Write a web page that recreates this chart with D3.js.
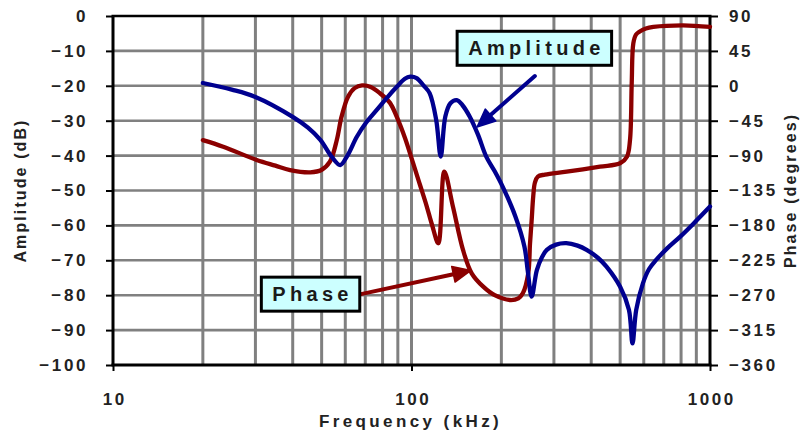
<!DOCTYPE html>
<html>
<head>
<meta charset="utf-8">
<script src="https://cdn.jsdelivr.net/npm/d3@7"></script>
<style>
  html, body { margin: 0; padding: 0; background: #fff; }
  svg { display: block; font-family: Arial, "Liberation Sans", sans-serif; }
</style>
</head>
<body>
<svg id="chart" width="800" height="436"></svg>
<script>
// Frequency response: amplitude (dB, left axis) and phase (degrees, right axis)
const ampFreq = [20, 25, 30, 40, 45, 49.5, 54, 57.7, 61, 65.6, 70.5, 76.5, 83, 89.3, 95, 99, 104, 110, 115, 121, 125.3,
  129.8, 135, 141.8, 148, 156.6, 167, 178, 190, 202, 223, 239, 245, 252.7, 263, 274, 284, 305, 330, 360, 386, 420,
  450, 500, 535, 550, 566, 596, 625, 660, 720, 795, 880, 1000];
const ampDb = [-19.2, -21.1, -23.2, -28.9, -32, -35.5, -40.3, -42.7, -40, -34.6, -30.5, -26.9, -23.3, -20.3, -18, -17.4,
  -17.8, -20, -22.1, -29.8, -40.3, -28.8, -25, -24.1, -25.5, -28.8, -34, -40.3, -44.5, -48.9, -57.5, -66.1, -72.8,
  -80.4, -72.8, -69, -67, -65.5, -65.1, -65.8, -67, -69.2, -71.8, -77.6, -84.2, -93.8, -84.2, -76.6, -72.5, -69.9,
  -66.5, -63.2, -59.5, -54.6];

const phaseFreq = [20, 23.4, 30.3, 35, 39.2, 45.8, 49.9, 53.3, 56.2, 58.3, 61.3, 64.5, 68.3, 73, 78.4, 84.7, 89.2, 95.1,
  101.2, 106.8, 112.4, 117.2, 123, 128.8, 137.7, 148.8, 159.1, 173.9, 190, 213.7, 228, 236, 246.1, 249.5, 252.5, 255.8,
  259, 265, 280, 331, 428, 499.5, 527, 539.5, 546.7, 553.5, 565, 580, 610, 646, 812, 1000];
const phaseDeg = [-70, -78.5, -95.7, -103, -108.6, -111.5, -108.6, -97.9, -69.9, -39.8, -14, -3, 0.5, -1.5, -9.6, -22,
  -39.8, -67.3, -99.5, -127.9, -155, -179.5, -203, -110.6, -155.9, -211.7, -241.8, -259, -270, -276.2, -274, -267.6,
  -241.8, -203.1, -175, -142, -125, -117, -114.5, -110.7, -104.3, -99.9, -91.4, -69.9, 3.2, 54.8, 66, 69.8, 74, 76,
  78, 76];

const ampTicks = [0, -10, -20, -30, -40, -50, -60, -70, -80, -90, -100];
const phaseTicks = [90, 45, 0, -45, -90, -135, -180, -225, -270, -315, -360];
const freqTicks = [10, 100, 1000];

// Callouts: label box centre and arrow tail/head, in frequency / dB units
const callouts = [
  { text: "Amplitude", color: "#00008f", box: [258, -9.25], tail: [259, -17.2], head: [165.8, -31.8] },
  { text: "Phase", color: "#8b0000", box: [45.9, -79.7], tail: [67.7, -79.7], head: [158.2, -72.9] }
];

const margin = { left: 113, right: 90, top: 16, bottom: 71 };
const W = 800, H = 436;
const svg = d3.select("#chart");

const x = d3.scaleLog().domain([10, 1000]).range([margin.left, W - margin.right]);
const yAmp = d3.scaleLinear().domain([-100, 0]).range([H - margin.bottom, margin.top]);
const yPh = d3.scaleLinear().domain([-360, 90]).range([H - margin.bottom, margin.top]);

const gridColor = "#808080";

// grid
const grid = svg.append("g");
grid.selectAll("line.v")
  .data(x.ticks().filter(d => d > 10 && d < 1000))
  .join("line")
  .attr("x1", d => x(d)).attr("x2", d => x(d))
  .attr("y1", yAmp(0)).attr("y2", yAmp(-100))
  .attr("stroke", gridColor).attr("stroke-width", 3);
grid.selectAll("line.h")
  .data(ampTicks.filter(d => d > -100 && d < 0))
  .join("line")
  .attr("x1", x(10)).attr("x2", x(1000))
  .attr("y1", d => yAmp(d)).attr("y2", d => yAmp(d))
  .attr("stroke", gridColor).attr("stroke-width", 2.6);

// axes
const tickFont = g => g.selectAll("text")
  .attr("font-size", 17).attr("font-weight", "bold").attr("fill", "#222")
  .attr("letter-spacing", 2.6);

const leftAxis = svg.append("g").attr("transform", `translate(${x(10)},0)`)
  .call(d3.axisLeft(yAmp).tickValues(ampTicks).tickSize(7).tickPadding(18).tickFormat(d3.format("d")))
  .call(g => g.select(".domain").remove())
  .call(tickFont);
leftAxis.selectAll("line").attr("stroke", "#000").attr("stroke-width", 2);

const rightAxis = svg.append("g").attr("transform", `translate(${x(1000)},0)`)
  .call(d3.axisRight(yPh).tickValues(phaseTicks).tickSize(8).tickPadding(11).tickFormat(d3.format("d")))
  .call(g => g.select(".domain").remove())
  .call(tickFont);
rightAxis.selectAll("line").attr("stroke", "#000").attr("stroke-width", 2);

const bottomAxis = svg.append("g").attr("transform", `translate(0,${yAmp(-100)})`)
  .call(d3.axisBottom(x).tickValues(freqTicks).tickSize(6).tickPadding(22).tickFormat(d3.format("d")))
  .call(g => g.select(".domain").remove())
  .call(tickFont);
bottomAxis.selectAll("line").attr("stroke", "#000").attr("stroke-width", 2);
bottomAxis.selectAll("text").attr("dx", 1.3);

// plot frame
svg.append("line").attr("x1", x(10) - 1.5).attr("x2", x(1000) + 1.5).attr("y1", yAmp(0)).attr("y2", yAmp(0))
  .attr("stroke", "#000").attr("stroke-width", 2.5);
svg.append("line").attr("x1", x(10) - 1.5).attr("x2", x(1000) + 1.5).attr("y1", yAmp(-100)).attr("y2", yAmp(-100))
  .attr("stroke", "#000").attr("stroke-width", 3);
svg.append("line").attr("x1", x(10)).attr("x2", x(10)).attr("y1", yAmp(0)).attr("y2", yAmp(-100))
  .attr("stroke", "#000").attr("stroke-width", 3);
svg.append("line").attr("x1", x(1000)).attr("x2", x(1000)).attr("y1", yAmp(0)).attr("y2", yAmp(-100))
  .attr("stroke", "#000").attr("stroke-width", 3);

// axis titles
const midY = (yAmp(0) + yAmp(-100)) / 2;
svg.append("text")
  .attr("transform", `translate(26,${midY}) rotate(-90)`)
  .attr("text-anchor", "middle").attr("font-size", 16).attr("font-weight", "bold")
  .attr("letter-spacing", 2.1).attr("fill", "#222")
  .text("Amplitude (dB)");
svg.append("text")
  .attr("transform", `translate(796,${midY}) rotate(-90)`)
  .attr("text-anchor", "middle").attr("font-size", 16).attr("font-weight", "bold")
  .attr("letter-spacing", 2.1).attr("fill", "#222")
  .text("Phase (degrees)");
svg.append("text")
  .attr("x", (x(10) + x(1000)) / 2 - 1).attr("y", 427)
  .attr("text-anchor", "middle").attr("font-size", 17).attr("font-weight", "bold")
  .attr("letter-spacing", 3.4).attr("fill", "#222")
  .text("Frequency (kHz)");

// curves
const curve = d3.curveCatmullRom.alpha(0.5);
const ampLine = d3.line().x(i => x(ampFreq[i])).y(i => yAmp(ampDb[i])).curve(curve);
const phLine = d3.line().x(i => x(phaseFreq[i])).y(i => yPh(phaseDeg[i])).curve(curve);

svg.append("path").attr("d", phLine(d3.range(phaseFreq.length)))
  .attr("fill", "none").attr("stroke", "#8b0000").attr("stroke-width", 4.3)
  .attr("stroke-linejoin", "round").attr("stroke-linecap", "round");
svg.append("path").attr("d", ampLine(d3.range(ampFreq.length)))
  .attr("fill", "none").attr("stroke", "#00008f").attr("stroke-width", 4.3)
  .attr("stroke-linejoin", "round").attr("stroke-linecap", "round");

// callouts with arrows
callouts.forEach(c => {
  const tx = x(c.tail[0]), ty = yAmp(c.tail[1]);
  const hx = x(c.head[0]), hy = yAmp(c.head[1]);
  const ang = Math.atan2(hy - ty, hx - tx);
  const len = 18, half = 8;
  const bx = hx - len * Math.cos(ang), by = hy - len * Math.sin(ang);
  svg.append("line").attr("x1", tx).attr("y1", ty).attr("x2", bx).attr("y2", by)
    .attr("stroke", c.color).attr("stroke-width", 4).attr("stroke-linecap", "round");
  const px = -Math.sin(ang), py = Math.cos(ang);
  svg.append("path")
    .attr("d", `M${hx},${hy}L${bx + px * half},${by + py * half}L${bx - px * half},${by - py * half}Z`)
    .attr("fill", c.color).attr("stroke", c.color).attr("stroke-width", 1.5).attr("stroke-linejoin", "round");

  const g = svg.append("g").attr("transform", `translate(${x(c.box[0])},${yAmp(c.box[1])})`);
  const rect = g.append("rect").attr("fill", "#ccffff").attr("stroke", "#000").attr("stroke-width", 3);
  const t = g.append("text").attr("text-anchor", "middle").attr("dy", "0.36em")
    .attr("font-size", 20).attr("font-weight", "bold").attr("letter-spacing", 4.3).attr("fill", "#1a1a1a")
    .text(c.text);
  const bb = t.node().getBBox();
  const w = bb.width + 18, h = 34;
  t.attr("dx", 2);
  rect.attr("x", -w / 2).attr("y", -h / 2).attr("width", w).attr("height", h);
});
</script>
</body>
</html>
